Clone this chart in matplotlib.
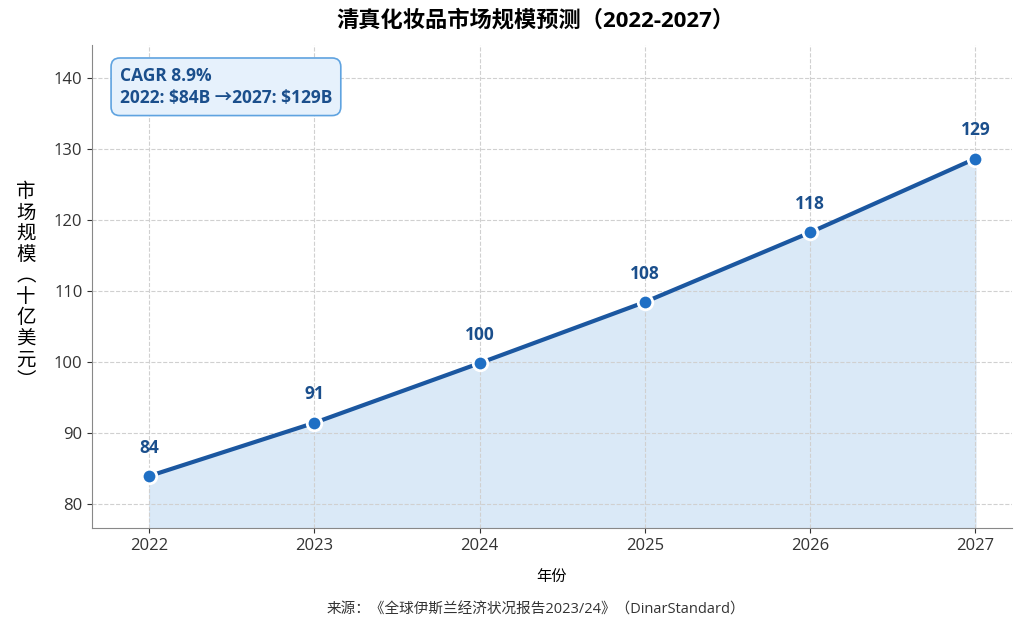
import matplotlib
matplotlib.use("Agg")
import matplotlib.pyplot as plt

plt.rcParams['font.family'] = ['Open Sans', 'Noto Sans CJK SC', 'DejaVu Sans']

years = [2022, 2023, 2024, 2025, 2026, 2027]
market = [83.9, 91.4, 99.8, 108.4, 118.2, 128.6]
labels = ['84', '91', '100', '108', '118', '129']

fig, ax = plt.subplots(figsize=(10.24, 6.33), dpi=100)
fig.subplots_adjust(left=0.09, right=0.988, top=0.929, bottom=0.166)

ax.fill_between(years, market, 76.6, color='#d6e7f7', alpha=0.9, zorder=1)
ax.plot(years, market, color='#1b57a0', lw=3, zorder=3)
ax.scatter(years, market, s=110, color='#1f6fc4', edgecolor='white', linewidth=2, zorder=4)

for x, y, t in zip(years, market, labels):
    ax.annotate(t, (x, y), xytext=(0, 14), textcoords='offset points',
                ha='center', va='bottom', fontsize=12.5, fontweight='bold', color='#1b4f8c')

ax.set_xlim(2021.655, 2027.22)
ax.set_ylim(76.6, 144.6)
ax.set_xticks(years)
ax.set_yticks([80, 90, 100, 110, 120, 130, 140])
ax.tick_params(labelsize=12, colors='#333333')
ax.grid(True, linestyle='--', color='#d0d0d0', linewidth=0.8, zorder=0)
for s in ['top', 'right']:
    ax.spines[s].set_visible(False)
for s in ['left', 'bottom']:
    ax.spines[s].set_color('#888888')

fig.suptitle('清真化妆品市场规模预测（2022-2027）', x=0.523, y=0.985, va='top',
             fontsize=16, fontweight='bold')
ax.set_xlabel('年份', fontsize=11, labelpad=12)
ax.set_ylabel('市\n场\n规\n模\n︵\n十\n亿\n美\n元\n︶', rotation=0, fontsize=14,
              va='center', labelpad=20, linespacing=1.0,
              family=['Noto Sans CJK SC', 'DejaVu Sans'])

ax.text(0.03, 0.955, 'CAGR 8.9%\n2022: \\$84B →2027: \\$129B', transform=ax.transAxes,
        ha='left', va='top', fontsize=12.5, fontweight='bold', color='#1b4f8c', linespacing=1.3,
        bbox=dict(boxstyle='round,pad=0.5', facecolor='#e6f1fc', edgecolor='#5fa3e0', linewidth=1.2))

fig.text(0.523, 0.025, '来源：《全球伊斯兰经济状况报告2023/24》（DinarStandard）',
         ha='center', va='bottom', fontsize=10.5, color='#333333')

fig.savefig('out.png', dpi=100)
